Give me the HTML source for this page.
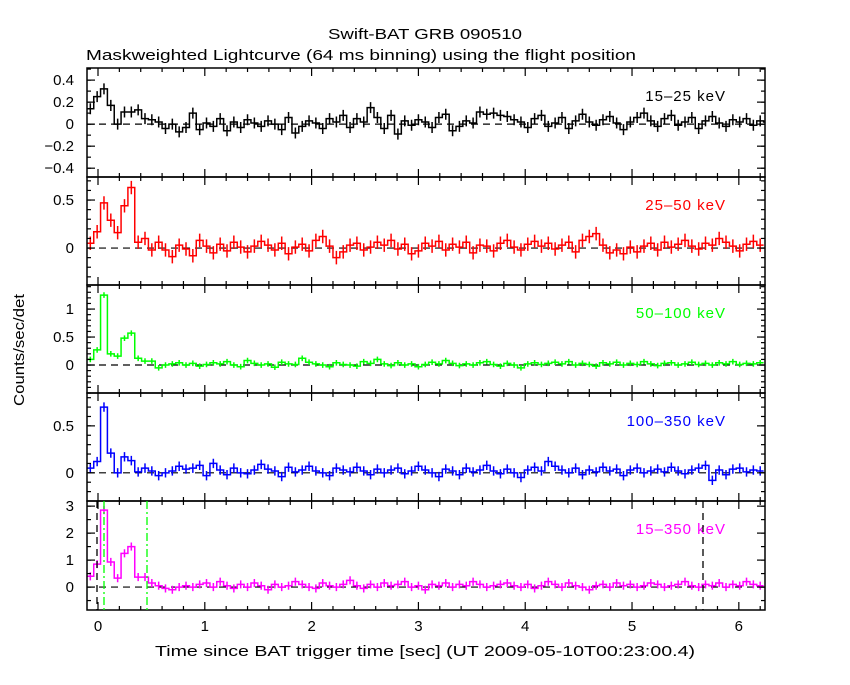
<!DOCTYPE html>
<html><head><meta charset="utf-8"><style>
body{margin:0;background:#fff;}
svg text{font-family:"Liberation Sans",sans-serif;}
</style></head><body>
<svg id="c" width="850" height="680" xmlns="http://www.w3.org/2000/svg">
<rect width="850" height="680" fill="#fff"/>
<text x="328" y="39" textLength="194" lengthAdjust="spacingAndGlyphs" font-size="15">Swift-BAT GRB 090510</text>
<text x="86" y="60" textLength="550" lengthAdjust="spacingAndGlyphs" font-size="15">Maskweighted Lightcurve (64 ms binning) using the flight position</text>
<text x="155" y="656" textLength="540" lengthAdjust="spacingAndGlyphs" font-size="15">Time since BAT trigger time [sec] (UT 2009-05-10T00:23:00.4)</text>
<text transform="translate(24,350) rotate(-90)" text-anchor="middle" textLength="112" lengthAdjust="spacingAndGlyphs" font-size="15">Counts/sec/det</text>
<g id="plots"></g>
</svg>
<script>
const t0 = -0.104, binW = 0.064;
const xTicks = [0,1,2,3,4,5,6];
const s1 = [0.14,0.25,0.32,0.17,0,0.11,0.11,0.13,0.05,0.04,0.02,-0.04,0,-0.07,-0.03,0.1,-0.05,0.01,-0.02,0.05,-0.06,0.02,-0.03,0.04,0.01,-0.02,0.03,0,-0.05,0.06,-0.08,-0.02,0.03,0.01,-0.04,0.05,0.02,0.08,-0.03,0.05,0.02,0.15,0.06,-0.04,0.08,-0.09,0.03,-0.01,0.04,0.02,-0.03,0.06,0.09,-0.06,-0.02,0.03,0.01,0.11,0.09,0.1,0.08,0.07,0.04,0.02,-0.03,0.05,0.08,-0.02,0.01,0.06,-0.04,0.03,0.09,0.02,-0.01,0.04,0.07,0.01,-0.05,0.02,0.06,0.1,0.03,-0.02,0.05,0.08,-0.01,0.02,0.06,-0.04,0.03,0.07,0.01,-0.02,0.04,0.02,0.05,-0.01,0.03,0.02];
const s2 = [0.05,0.17,0.47,0.29,0.16,0.44,0.63,0.06,0.1,-0.02,0.06,-0.02,-0.09,0.03,-0.01,-0.08,0.08,0.02,-0.05,0.04,-0.03,0.06,0.01,-0.04,0.02,0.07,0.03,-0.02,0.05,-0.06,0.01,0.04,-0.03,0.08,0.12,0.02,-0.1,-0.04,0.03,0.05,-0.02,0.01,0.06,0.03,0.08,-0.01,0.04,-0.06,-0.03,0.05,0.02,0.07,-0.02,0.04,0.01,0.06,-0.05,0.03,0.02,-0.03,0.05,0.08,0.01,-0.02,0.04,0.07,0.02,0.05,-0.01,0.03,0.06,-0.04,0.08,0.12,0.15,0.03,-0.05,-0.02,-0.06,0.01,-0.04,0.02,0.05,-0.02,0.06,0.01,0.04,0.08,0.02,-0.01,0.05,0.03,0.1,0.06,0.02,-0.03,0.04,0.07,0.03];
const s3 = [0.1,0.27,1.25,0.2,0.16,0.48,0.57,0.12,0.07,0.07,-0.05,0.0,0.02,0.04,0.0,0.03,-0.02,0.01,0.04,0.02,0.06,0.0,-0.03,0.08,0.03,0.0,0.02,-0.04,0.05,0.02,0.01,0.12,0.05,0.02,0.0,-0.03,0.04,0.01,0.0,-0.02,0.06,0.03,0.1,0.02,-0.01,0.04,0.0,0.02,-0.03,0.01,0.05,0.02,0.08,0.03,-0.01,0.02,0.0,0.04,0.06,0.01,-0.02,0.03,0.0,-0.05,0.02,0.04,0.01,0.03,0.05,0.02,0.06,0.0,0.03,0.01,-0.02,0.04,0.02,0.05,0.0,0.03,0.01,0.06,0.02,-0.01,0.03,0.04,0.0,0.02,0.05,0.01,0.03,0.0,0.04,0.02,0.06,0.01,0.03,0.02,0.04];
const s4 = [0.05,0.12,0.7,0.21,0,0.17,0.13,0.01,0.05,0.02,-0.03,0.0,0.02,0.07,0.04,0.05,0.08,-0.03,0.1,0.03,-0.02,0.05,0.0,-0.01,0.03,0.09,0.04,0.02,-0.04,0.06,0.01,0.03,0.07,0.02,0.0,-0.03,0.05,0.03,0.01,0.06,0.02,-0.02,0.04,0.0,0.03,0.05,-0.01,0.02,0.07,0.03,0.0,-0.04,0.04,0.02,-0.02,0.05,0.01,0.03,0.08,0.02,-0.01,0.04,0.0,-0.05,0.03,0.06,0.02,0.12,0.07,0.03,0.0,0.05,-0.02,0.03,0.01,0.06,0.02,0.04,-0.03,0.03,0.05,0.0,0.02,0.04,0.01,0.06,0.02,-0.01,0.03,0.05,0.08,-0.08,0.03,-0.02,0.04,0.05,0.01,0.03,0.02];
const s5 = [0.4,0.85,2.85,0.93,0.33,1.25,1.5,0.37,0.37,0.15,0.05,-0.05,-0.1,0.0,0.05,0.0,0.1,0.15,0.0,0.2,0.05,-0.05,0.1,0.0,0.15,0.05,-0.1,0.1,0.0,0.05,0.2,0.1,0.0,-0.05,0.15,0.05,0.0,0.1,0.25,0.05,-0.05,0.1,0.0,0.15,0.05,0.1,0.2,0.0,0.05,-0.1,0.1,0.05,0.15,0.0,0.1,0.05,0.2,0.1,0.0,0.05,0.1,0.15,0.05,0.0,0.1,-0.05,0.05,0.2,0.1,0.0,0.15,0.05,0.0,-0.1,0.05,0.1,0.0,0.15,0.05,0.1,0.0,0.05,0.15,0.1,0.0,0.05,0.1,0.2,0.05,0.0,0.1,0.05,0.15,0.0,0.1,0.05,0.2,0.1,0.05];
const panels = [
 {data:s1,color:"#000",label:"15\u201325 keV",top:68,bot:177,ymin:-0.48,ymax:0.51,ticks:[-0.4,-0.2,0,0.2,0.4],tl:["\u22120.4","\u22120.2","0","0.2","0.4"],minor:0.1,err:0.05},
 {data:s2,color:"#ff0000",label:"25\u201350 keV",top:177,bot:285,ymin:-0.385,ymax:0.74,ticks:[0,0.5],tl:["0","0.5"],minor:0.1,err:0.07},
 {data:s3,color:"#00ff00",label:"50\u2013100 keV",top:285,bot:393,ymin:-0.5,ymax:1.43,ticks:[0,0.5,1],tl:["0","0.5","1"],minor:0.1,err:0.05},
 {data:s4,color:"#0000ff",label:"100\u2013350 keV",top:393,bot:501,ymin:-0.3,ymax:0.85,ticks:[0,0.5],tl:["0","0.5"],minor:0.1,err:0.05},
 {data:s5,color:"#ff00ff",label:"15\u2013350 keV",top:501,bot:610,ymin:-0.85,ymax:3.19,ticks:[0,1,2,3],tl:["0","1","2","3"],minor:0.5,err:0.15}
];
const X0=87,X1=765,tmin=-0.103,tmax=6.245;
const xs = t => X0+(t-tmin)/(tmax-tmin)*(X1-X0);
const NS="http://www.w3.org/2000/svg";
const g=document.getElementById('plots');
function mk(tag,attrs,parent){const e=document.createElementNS(NS,tag);for(const k in attrs)e.setAttribute(k,attrs[k]);(parent||g).appendChild(e);return e;}
panels.forEach((p,pi)=>{
 const ys=v=>p.bot-(v-p.ymin)/(p.ymax-p.ymin)*(p.bot-p.top);
 const pg=mk('g',{});
 
 
 const cid='clip'+pi;
 const cp=mk('clipPath',{id:cid},pg);mk('rect',{x:X0,y:p.top,width:X1-X0,height:p.bot-p.top},cp);
 const zl=mk('line',{x1:X0,x2:X1,y1:ys(0),y2:ys(0),stroke:"#000","stroke-width":1.2,"stroke-dasharray":"7,5"},pg);
 
 
 let d="";
 p.data.forEach((v,i)=>{const a=xs(t0+i*binW),b=xs(t0+(i+1)*binW),y=ys(v);d+=(i?"L":"M")+a+","+y+"L"+b+","+y;});
 const ln=mk('path',{d:d,fill:"none",stroke:p.color,"stroke-width":1.5,"clip-path":"url(#"+cid+")"},pg);
 
 
 let ed="";
 p.data.forEach((v,i)=>{const c=xs(t0+(i+0.5)*binW);ed+="M"+c+","+ys(v-p.err)+"L"+c+","+ys(v+p.err);});
 const eb=mk('path',{d:ed,stroke:p.color,"stroke-width":1.5,"clip-path":"url(#"+cid+")"},pg);
 
 
 mk('rect',{x:X0,y:p.top,width:X1-X0,height:p.bot-p.top,fill:"none",stroke:"#000","stroke-width":1.5},pg);
 for(let t=0;t<=6.2001;t+=0.2){const x=xs(t);const maj=Math.abs(t-Math.round(t))<1e-6;const L=maj?8:4;
  mk('line',{x1:x,x2:x,y1:p.bot,y2:p.bot-L,stroke:"#000","stroke-width":1.2},pg);
  mk('line',{x1:x,x2:x,y1:p.top,y2:p.top+L,stroke:"#000","stroke-width":1.2},pg);}
 const s=Math.ceil(p.ymin/p.minor);
 for(let k=s;k*p.minor<=p.ymax;k++){const y=ys(k*p.minor);
  mk('line',{x1:X0,x2:X0+4,y1:y,y2:y,stroke:"#000","stroke-width":1.2},pg);
  mk('line',{x1:X1,x2:X1-4,y1:y,y2:y,stroke:"#000","stroke-width":1.2},pg);}
 p.ticks.forEach((v,j)=>{const y=ys(v);
  mk('line',{x1:X0,x2:X0+8,y1:y,y2:y,stroke:"#000","stroke-width":1.2},pg);
  mk('line',{x1:X1,x2:X1-8,y1:y,y2:y,stroke:"#000","stroke-width":1.2},pg);
  const tx=mk('text',{x:X0-13,y:y+5,"text-anchor":"end","font-size":15},pg);tx.textContent=p.tl[j];
  
  });
 const lb=mk('text',{x:726,y:p.top+33,"text-anchor":"end","font-size":15,fill:p.color,"letter-spacing":"1"},pg);lb.textContent=p.label;
 
 
 if(pi===4){
  [[97,"#000","7,5"],[703,"#000","7,5"],[104,"#00ff00","8,3,2,3"],[147,"#00ff00","8,3,2,3"]].forEach(q=>{
   const vl=mk('line',{x1:q[0],x2:q[0],y1:p.top,y2:p.bot,stroke:q[1],"stroke-width":1.3,"stroke-dasharray":q[2]},pg);
   
   });
  xTicks.forEach(t=>{const tx=mk('text',{x:xs(t),y:p.bot+21,"text-anchor":"middle","font-size":15},pg);tx.textContent=t;
   
   });
 }
});
</script>
</body></html>
